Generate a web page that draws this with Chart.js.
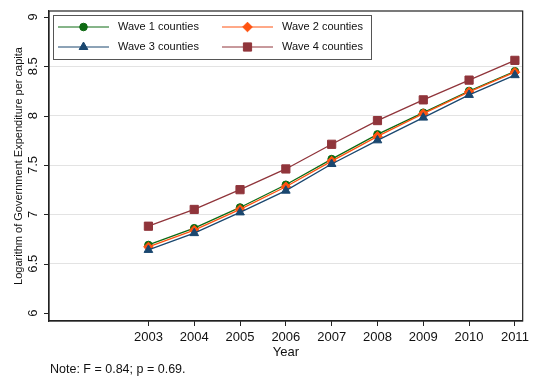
<!DOCTYPE html>
<html>
<head>
<meta charset="utf-8">
<script src="https://cdn.jsdelivr.net/npm/chart.js@4"></script>
<style>
  html, body { margin: 0; padding: 0; background: #ffffff; }
  canvas { display: block; }
</style>
</head>
<body>
<canvas id="c" width="533" height="379"></canvas>
<script>
// Years on the horizontal axis
const years = [2003, 2004, 2005, 2006, 2007, 2008, 2009, 2010, 2011];
// Log of government expenditure per capita, by wave
const wave1 = [6.69, 6.86, 7.07, 7.30, 7.56, 7.81, 8.03, 8.25, 8.45];
const wave2 = [6.67, 6.84, 7.05, 7.28, 7.54, 7.79, 8.02, 8.24, 8.44];
const wave3 = [6.64, 6.81, 7.02, 7.24, 7.51, 7.75, 7.98, 8.21, 8.41];
const wave4 = [6.88, 7.05, 7.25, 7.46, 7.71, 7.95, 8.16, 8.36, 8.56];
const seriesNames = ['Wave 1 counties', 'Wave 2 counties', 'Wave 3 counties', 'Wave 4 counties'];
// Y-axis tick labels
const yTicks = [6, 6.5, 7, 7.5, 8, 8.5, 9];
const yTitle = 'Logarithm of Government Expenditure per capita';
const xTitle = 'Year';
const note = 'Note: F = 0.84; p = 0.69.';

const FONT = 'Arial, "Liberation Sans", Helvetica, sans-serif';
const AXIS = '#222222';

function pts(vals) { return years.map((y, i) => ({ x: y, y: vals[i] })); }

function series(label, vals, color, style, radius, order) {
  return {
    label, data: pts(vals), order,
    borderColor: color, backgroundColor: color,
    borderWidth: 1.3,
    pointStyle: style, pointRadius: radius,
    pointBackgroundColor: color, pointBorderColor: color, pointBorderWidth: 1,
    tension: 0, fill: false
  };
}

function drawMarker(ctx, ds, x, y) {
  ctx.save();
  ctx.fillStyle = ds.pointBackgroundColor;
  ctx.strokeStyle = ds.pointBorderColor;
  ctx.lineWidth = ds.pointBorderWidth;
  if (Chart.helpers && Chart.helpers.drawPoint) {
    Chart.helpers.drawPoint(ctx, { pointStyle: ds.pointStyle, radius: ds.pointRadius, rotation: 0, borderWidth: ds.pointBorderWidth }, x, y);
  } else {
    ctx.beginPath(); ctx.arc(x, y, ds.pointRadius, 0, Math.PI * 2); ctx.fill();
  }
  ctx.restore();
}

// Frame, y tick marks and rotated labels, titles, note and the legend box
const decorations = {
  id: 'decorations',
  afterDraw(chart) {
    const ctx = chart.ctx;
    const a = chart.chartArea;
    const ys = chart.scales.y;

    ctx.save();
    // plot frame
    ctx.strokeStyle = AXIS;
    ctx.lineWidth = 1.2;
    ctx.strokeRect(a.left, a.top, a.right - a.left, a.bottom - a.top);

    // y tick marks
    ctx.lineWidth = 1;
    yTicks.forEach(v => {
      const py = Math.round(ys.getPixelForValue(v)) + 0.5;
      ctx.beginPath();
      ctx.moveTo(a.left - 5, py);
      ctx.lineTo(a.left, py);
      ctx.stroke();
    });

    // y tick labels, reading bottom to top
    ctx.fillStyle = '#111111';
    ctx.font = '13px ' + FONT;
    ctx.textAlign = 'center';
    ctx.textBaseline = 'middle';
    yTicks.forEach(v => {
      const py = ys.getPixelForValue(v);
      ctx.save();
      ctx.translate(33, py);
      ctx.rotate(-Math.PI / 2);
      ctx.fillText(String(v), 0, 0);
      ctx.restore();
    });

    // y title
    ctx.font = '11px ' + FONT;
    ctx.save();
    ctx.translate(18.5, (a.top + a.bottom) / 2);
    ctx.rotate(-Math.PI / 2);
    ctx.fillText(yTitle, 0, 0);
    ctx.restore();

    // x title
    ctx.font = '13px ' + FONT;
    ctx.fillText(xTitle, (a.left + a.right) / 2, 352);

    // note
    ctx.textAlign = 'left';
    ctx.font = '12.5px ' + FONT;
    ctx.fillText(note, 50, 370);

    // legend
    const lx = 53, ly = 15, lw = 318, lh = 44;
    ctx.fillStyle = '#ffffff';
    ctx.fillRect(lx, ly, lw, lh);
    ctx.strokeStyle = '#555555';
    ctx.lineWidth = 1;
    ctx.strokeRect(lx + 0.5, ly + 0.5, lw, lh);
    const slots = [[58, 27], [222, 27], [58, 47], [222, 47]];
    chart.data.datasets.forEach((ds, i) => {
      const [sx, sy] = slots[i];
      ctx.strokeStyle = ds.borderColor;
      ctx.lineWidth = 1;
      ctx.beginPath();
      ctx.moveTo(sx, sy); ctx.lineTo(sx + 51, sy);
      ctx.stroke();
      drawMarker(ctx, ds, sx + 25.5, sy);
      ctx.fillStyle = '#111111';
      ctx.font = '11px ' + FONT;
      ctx.textAlign = 'left';
      ctx.textBaseline = 'middle';
      ctx.fillText(ds.label, sx + 60, sy);
    });
    ctx.restore();
  }
};

new Chart(document.getElementById('c'), {
  type: 'line',
  data: {
    datasets: [
      series(seriesNames[0], wave1, '#0d6a12', 'circle', 3.8, 4),
      series(seriesNames[1], wave2, '#ff5310', 'rectRot', 4.8, 3),
      series(seriesNames[2], wave3, '#1a476f', 'triangle', 5, 2),
      series(seriesNames[3], wave4, '#90353b', 'rect', 5.8, 1)
    ]
  },
  options: {
    responsive: false,
    animation: false,
    devicePixelRatio: 1,
    layout: { padding: { top: 11, right: 8, left: 0, bottom: 0 } },
    plugins: { legend: { display: false }, tooltip: { enabled: false } },
    scales: {
      x: {
        type: 'linear',
        min: 2000.83, max: 2011.17,
        afterBuildTicks(scale) { scale.ticks = years.map(v => ({ value: v })); },
        afterFit(scale) { scale.height = 58; },
        border: { display: true, color: AXIS, width: 1.2 },
        grid: { drawOnChartArea: false, drawTicks: true, tickLength: 5, tickColor: AXIS, tickWidth: 1 },
        ticks: {
          autoSkip: false, maxRotation: 0, minRotation: 0, padding: 4,
          color: '#111111', font: { family: FONT, size: 13 },
          callback: v => String(v)
        }
      },
      y: {
        type: 'linear',
        min: 5.92, max: 9.06,
        afterBuildTicks(scale) { scale.ticks = yTicks.map(v => ({ value: v })); },
        afterFit(scale) { scale.width = 49; },
        border: { display: true, color: AXIS, width: 1.2 },
        grid: {
          color: c => (c.tick && (c.tick.value === 6 || c.tick.value === 9)) ? 'rgba(0,0,0,0)' : '#e3e3e3',
          lineWidth: 1,
          drawTicks: false
        },
        ticks: { display: false }
      }
    }
  },
  plugins: [decorations]
});
</script>
</body>
</html>
